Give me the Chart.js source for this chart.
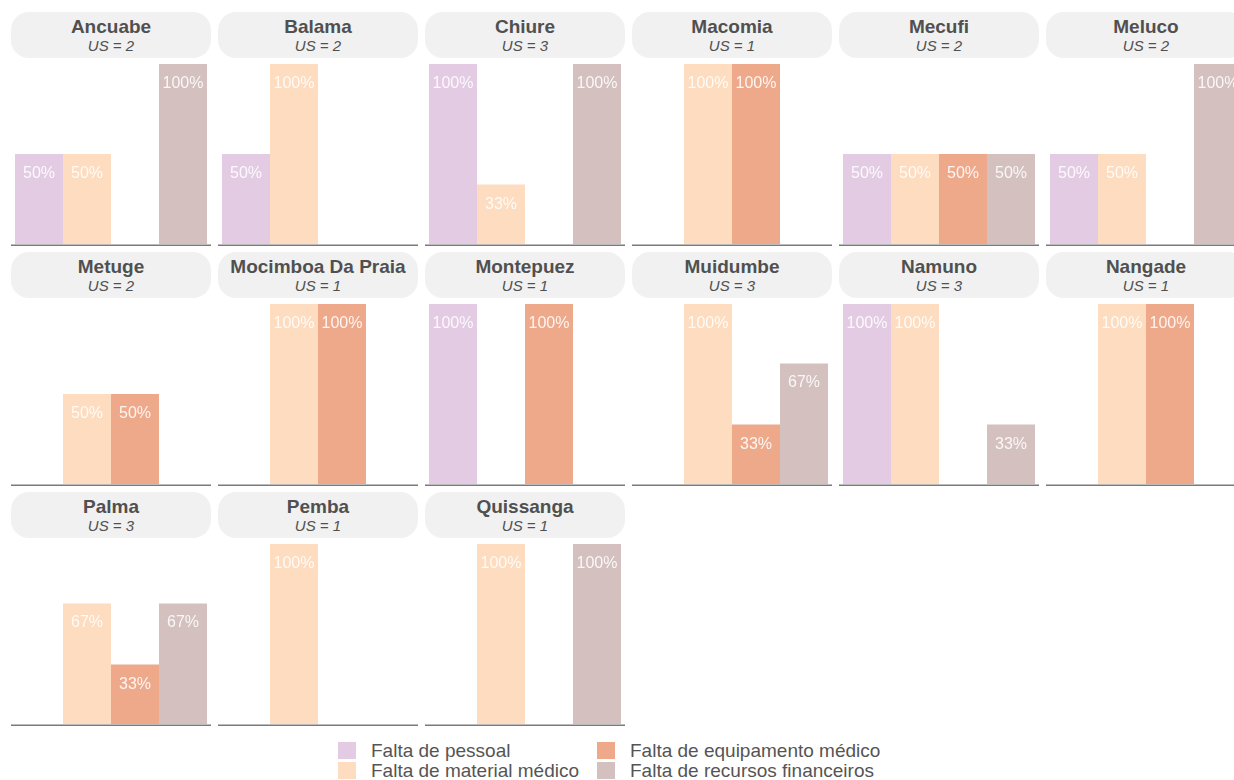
<!DOCTYPE html>
<html>
<head>
<meta charset="utf-8">
<script src="https://cdn.jsdelivr.net/npm/chart.js@4.4.1/dist/chart.umd.min.js"></script>
<style>
  html, body { margin: 0; padding: 0; background: #ffffff; }
  body { width: 1234px; height: 780px; overflow: hidden; position: relative;
         font-family: "Liberation Sans", Arial, sans-serif; }
  .panel { position: absolute; width: 200px; height: 236px; }
  .head { position: absolute; left: 0; top: 0; width: 200px; height: 46px;
          background: #f1f1f1; border-radius: 18px; text-align: center; color: #505050; }
  .head .t { position: absolute; left: 0; right: 0; top: 4px; font-size: 19px; font-weight: bold; line-height: 22px; white-space: nowrap; }
  .head .s { position: absolute; left: 0; right: 0; top: 25px; font-size: 15px; font-style: italic; line-height: 18px; }
  .panel canvas { position: absolute; left: 0; top: 48px; }
  #legend { position: absolute; left: 0; top: 0; }
  .li { position: absolute; font-size: 19px; color: #555555; line-height: 20px; white-space: nowrap; }
  .sw { position: absolute; width: 18px; height: 17px; }
</style>
</head>
<body>
<div id="grid"></div>
<div id="legend"></div>
<script>
// Problem categories (one bar each per district)
const categories = [
  "Falta de pessoal",
  "Falta de material médico",
  "Falta de equipamento médico",
  "Falta de recursos financeiros"
];
const colors = ["#e3cce3", "#fddcbf", "#eea98b", "#d3c0bf"];

// Districts and number of health units (US)
const districts = [
  "Ancuabe", "Balama", "Chiure", "Macomia", "Mecufi", "Meluco",
  "Metuge", "Mocimboa Da Praia", "Montepuez", "Muidumbe", "Namuno", "Nangade",
  "Palma", "Pemba", "Quissanga"
];
const usCount = [2, 2, 3, 1, 2, 2, 2, 1, 1, 3, 3, 1, 3, 1, 1];

// Share of health units reporting each problem (%), per category
const pessoal     = [50, 50, 100, 0, 50, 50, 0, 0, 100, 0, 100, 0, 0, 0, 0];
const material    = [50, 100, 33, 100, 50, 50, 50, 100, 0, 100, 100, 100, 67, 100, 100];
const equipamento = [0, 0, 0, 100, 50, 0, 50, 100, 100, 33, 0, 100, 33, 0, 0];
const recursos    = [100, 0, 100, 0, 50, 100, 0, 0, 0, 67, 33, 0, 67, 0, 100];
const series = [pessoal, material, equipamento, recursos];

const COLS = 6, STEP_X = 207, STEP_Y = 240, LEFT = 11, TOP = 12;

// Baseline and in-bar percentage labels
const panelDecor = {
  id: "panelDecor",
  afterDatasetsDraw(chart) {
    const ctx = chart.ctx;
    const y0 = chart.scales.y.getPixelForValue(0);
    ctx.save();
    ctx.strokeStyle = "#7a7a7a";
    ctx.lineWidth = 1.5;
    ctx.beginPath();
    ctx.moveTo(0, y0 + 1.2);
    ctx.lineTo(chart.width, y0 + 1.2);
    ctx.stroke();
    ctx.fillStyle = "rgba(255,255,255,0.88)";
    ctx.font = "16px 'Liberation Sans', Arial, sans-serif";
    ctx.textAlign = "center";
    ctx.textBaseline = "middle";
    chart.data.datasets.forEach((ds, i) => {
      const meta = chart.getDatasetMeta(i);
      meta.data.forEach((bar, j) => {
        const v = ds.data[j];
        if (v > 0) ctx.fillText(v + "%", bar.x, bar.y + 19.5);
      });
    });
    ctx.restore();
  }
};

const grid = document.getElementById("grid");
districts.forEach((name, k) => {
  const col = k % COLS, row = Math.floor(k / COLS);
  const panel = document.createElement("div");
  panel.className = "panel";
  panel.style.left = (LEFT + col * STEP_X) + "px";
  panel.style.top = (TOP + row * STEP_Y) + "px";
  panel.innerHTML = '<div class="head"><div class="t"></div><div class="s"></div></div>';
  panel.querySelector(".t").textContent = name;
  panel.querySelector(".s").textContent = "US = " + usCount[k];
  const canvas = document.createElement("canvas");
  canvas.width = 200;
  canvas.height = 190;
  canvas.style.width = "200px";
  canvas.style.height = "190px";
  panel.appendChild(canvas);
  grid.appendChild(panel);

  new Chart(canvas, {
    type: "bar",
    data: {
      labels: [name],
      datasets: categories.map((c, i) => ({
        label: c,
        data: [series[i][k]],
        backgroundColor: colors[i],
        borderWidth: 0,
        barPercentage: 1,
        categoryPercentage: 0.96
      }))
    },
    options: {
      responsive: false,
      devicePixelRatio: 1,
      animation: false,
      layout: { padding: { top: 4, bottom: 6, left: 0, right: 0 } },
      scales: {
        x: { display: false },
        y: { display: false, min: 0, max: 100 }
      },
      plugins: { legend: { display: false }, tooltip: { enabled: false } }
    },
    plugins: [panelDecor]
  });
});

// Legend in two columns
const legend = document.getElementById("legend");
const legendPos = [[338, 742], [338, 762], [597, 742], [597, 762]];
categories.forEach((c, i) => {
  const [x, y] = legendPos[i];
  const sw = document.createElement("div");
  sw.className = "sw";
  sw.style.left = x + "px";
  sw.style.top = y + "px";
  sw.style.background = colors[i];
  legend.appendChild(sw);
  const t = document.createElement("div");
  t.className = "li";
  t.style.left = (x + 33) + "px";
  t.style.top = (y - 1) + "px";
  t.textContent = c;
  legend.appendChild(t);
});
</script>
</body>
</html>
